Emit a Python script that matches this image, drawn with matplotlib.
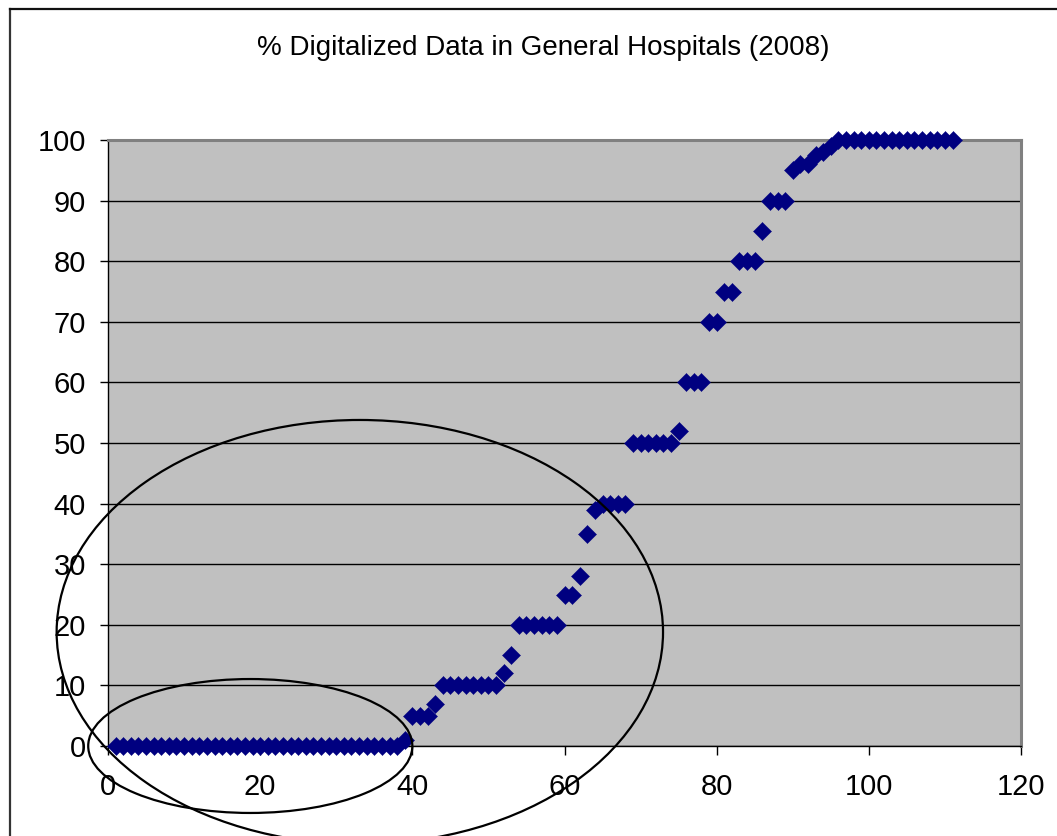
import matplotlib
matplotlib.use("Agg")
import matplotlib.pyplot as plt
from matplotlib.patches import Ellipse
from matplotlib.lines import Line2D
import numpy as np

plt.rcParams['font.family'] = ['Liberation Sans', 'DejaVu Sans']

title = "% Digitalized Data in General Hospitals (2008)"

# percentage of digitalized data per hospital (sorted)
pct_digital = [
    0, 0, 0, 0, 0, 0, 0, 0, 0, 0,
    0, 0, 0, 0, 0, 0, 0, 0, 0, 0,
    0, 0, 0, 0, 0, 0, 0, 0, 0, 0,
    0, 0, 0, 0, 0, 0, 0, 0,
    1,
    5, 5, 5,
    7,
    10, 10, 10, 10, 10, 10, 10, 10,
    12,
    15,
    20, 20, 20, 20, 20, 20,
    25, 25,
    28,
    35,
    39,
    40, 40, 40, 40,
    50, 50, 50, 50, 50, 50,
    52,
    60, 60, 60,
    70, 70,
    75, 75,
    80, 80, 80,
    85,
    90, 90, 90,
    95, 96, 96, 97.5, 98, 99,
    100, 100, 100, 100, 100, 100, 100, 100,
    100, 100, 100, 100, 100, 100, 100, 100,
]
hospital_rank = np.arange(1, len(pct_digital) + 1)

x_ticks = [0, 20, 40, 60, 80, 100, 120]
y_ticks = [0, 10, 20, 30, 40, 50, 60, 70, 80, 90, 100]

# annotation ellipses (data coordinates): (cx, cy, width, height)
big_ellipse = (33.1, 18.8, 79.7, 70.0)
small_ellipse = (18.7, 0.0, 42.6, 22.1)

W, H = 1057, 836
fig = plt.figure(figsize=(W / 100, H / 100), dpi=100)
fig.patch.set_facecolor('white')

ax = fig.add_axes([108 / W, 1 - 746 / H, (1021 - 108) / W, (746 - 140) / H])
ax.set_facecolor('#C0C0C0')

ax.scatter(hospital_rank, pct_digital, marker='D', s=85, color='#000080',
           edgecolors='#000080', linewidths=0.3, zorder=3, clip_on=False)

ax.set_xlim(0, 120)
ax.set_ylim(0, 100)
ax.set_xticks(x_ticks)
ax.set_yticks(y_ticks)
ax.yaxis.grid(True, color='black', linewidth=1.0)
ax.set_axisbelow(True)

for s in ['top', 'right']:
    ax.spines[s].set_color('#808080')
    ax.spines[s].set_linewidth(2.2)
for s in ['left', 'bottom']:
    ax.spines[s].set_color('black')
    ax.spines[s].set_linewidth(1.0)

ax.tick_params(axis='y', direction='out', length=6, width=1, pad=10, labelsize=21)
ax.tick_params(axis='x', direction='out', length=6.5, width=1, pad=13, labelsize=21)

for cx, cy, w, h in [big_ellipse, small_ellipse]:
    e = Ellipse((cx, cy), w, h, fill=False, edgecolor='black', linewidth=1.6,
                clip_on=False, zorder=5)
    ax.add_patch(e)

fig.text(0.514, 1 - 48 / H, title, ha='center', va='center', fontsize=20)

# outer chart frame (left and top visible)
fig.add_artist(Line2D([10 / W, 10 / W], [0, 1 - 9 / H], color='#333333', linewidth=1.6))
fig.add_artist(Line2D([10 / W, 1], [1 - 9 / H, 1 - 9 / H], color='#111111', linewidth=1.6))

fig.savefig('out.png', dpi=100)
